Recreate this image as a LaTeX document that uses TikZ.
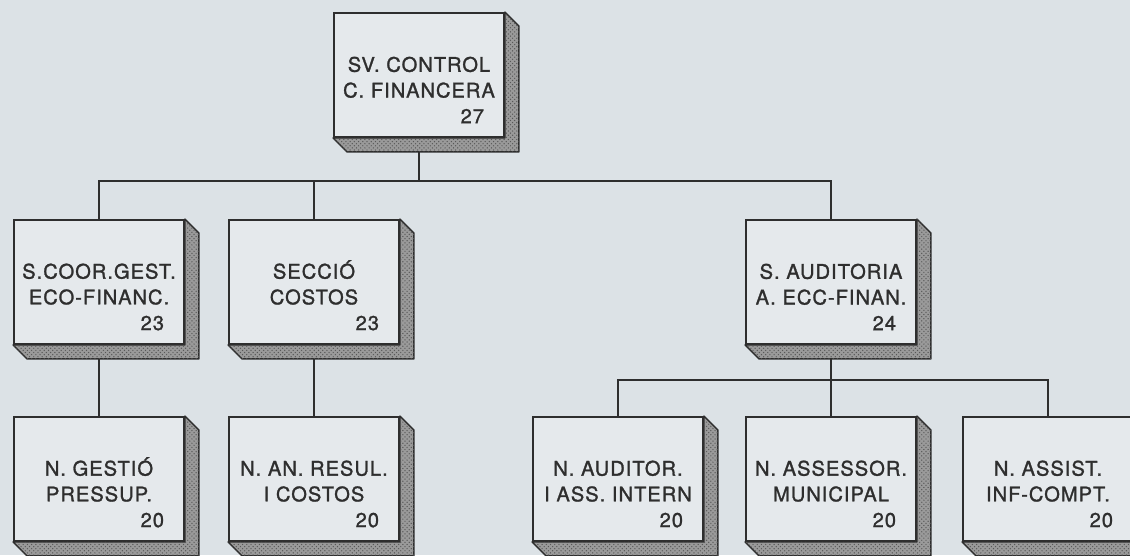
\documentclass[tikz,border=0pt]{standalone}
\usepackage{fontspec}
\setmainfont{TeX Gyre Heros}[LetterSpace=5,FakeBold=1.3]
\usetikzlibrary{patterns,backgrounds}
\definecolor{paper}{HTML}{DCE2E6}
\definecolor{ink}{HTML}{2E2E2E}
\definecolor{slab}{HTML}{9A9A9A}
\tikzset{
	unit/.style={draw=ink, line width=1.3pt, fill=paper!75!white, minimum width=4.25cm, minimum height=3.1cm,
		text width=4.25cm, inner xsep=0pt, align=center, text=ink, font=\fontsize{14.3}{18.3}\selectfont},
	link/.style={draw=ink, line width=1.1pt},
	side/.style={fill=slab, postaction={pattern=crosshatch dots, pattern color=ink!80}, draw=ink, line width=1pt, line join=round}
}
\newcommand{\unittext}[3]{\rule{0pt}{32pt}#1\\#2\\\mbox{}\hfill #3\hspace*{0.5cm}}
\newcommand{\extrude}[1]{\path[side] (#1.north east) -- ++(14,14) -- ([shift={(14,14)}]#1.south east) -- ([shift={(14,14)}]#1.south west) -- (#1.south west) -- (#1.south east) -- cycle;}
\begin{document}
\begin{tikzpicture}[x=0.025cm, y=-0.025cm]
	\useasboundingbox (0,0) rectangle (1130,555);
	\node[unit] (ctrl) at (419,75) {\unittext{SV. CONTROL}{C. FINANCERA}{27}};
	\node[unit] (coor) at (99,282) {\unittext{S.COOR.GEST.}{ECO-FINANC.}{23}};
	\node[unit] (cost) at (314,282) {\unittext{SECCIÓ}{COSTOS}{23}};
	\node[unit] (audi) at (831,282) {\unittext{S. AUDITORIA}{A. ECC-FINAN.}{24}};
	\node[unit] (pres) at (99,479) {\unittext{N. GESTIÓ}{PRESSUP.}{20}};
	\node[unit] (resu) at (314,479) {\unittext{N. AN. RESUL.}{I COSTOS}{20}};
	\node[unit] (intr) at (618,479) {\unittext{N. AUDITOR.}{I ASS. INTERN}{20}};
	\node[unit] (muni) at (831,479) {\unittext{N. ASSESSOR.}{MUNICIPAL}{20}};
	\node[unit] (comp) at (1048,479) {\unittext{N. ASSIST.}{INF-COMPT.}{20}};
	\foreach \n in {ctrl,coor,cost,audi,pres,resu,intr,muni,comp} {\extrude{\n}}
	\begin{pgfonlayer}{background}
		\fill[paper] (0,0) rectangle (1130,555);
		\draw[link] (ctrl.south) -- ++(0,43) coordinate (bus);
		\draw[link] (coor.north) |- (bus) -| (audi.north);
		\draw[link] (bus) -| (cost.north);
		\draw[link] (audi.south) -- ++(0,35) coordinate (bus2);
		\draw[link] (intr.north) |- (bus2) -| (comp.north);
		\draw[link] (bus2) -- (muni.north);
		\draw[link] (coor.south) -- (pres.north);
		\draw[link] (cost.south) -- (resu.north);
	\end{pgfonlayer}
\end{tikzpicture}
\end{document}
